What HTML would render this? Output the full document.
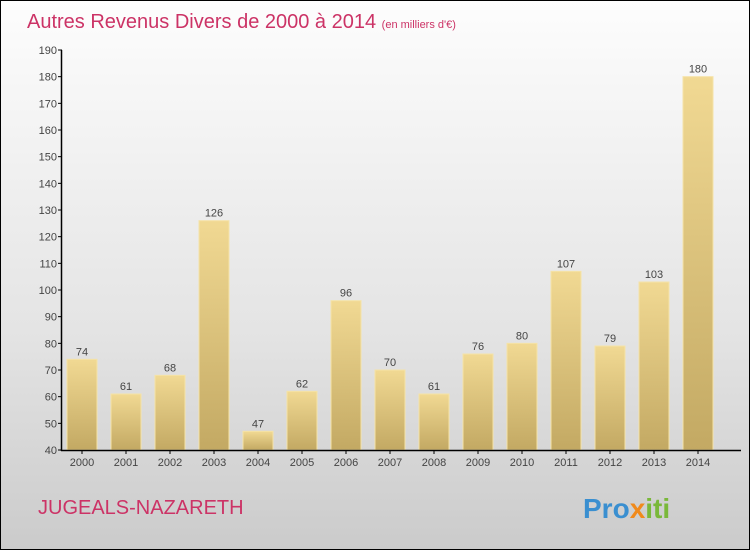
<!DOCTYPE html>
<html><head><meta charset="utf-8"><style>
body{margin:0;}
#wrap{width:748px;height:548px;border:1px solid #000;background:linear-gradient(#fdfdfd,#e4e4e4 60%,#cbcbcb);position:relative;font-family:"Liberation Sans",sans-serif;}
</style></head><body>
<div id="wrap">
<svg id="chart" width="748" height="548">
<defs><linearGradient id="bg" x1="0" y1="0" x2="0" y2="1"><stop offset="0" stop-color="#f1d993"/><stop offset="1" stop-color="#c3a963"/></linearGradient></defs>
<text x="26" y="27" font-size="20" fill="#cc3366">Autres Revenus Divers de 2000 à 2014 <tspan font-size="11">(en milliers d'€)</tspan></text>
<text x="37" y="513" font-size="20" fill="#cc3366">JUGEALS-NAZARETH</text>
<text x="582" y="517" font-size="28" font-weight="bold" fill="#3a8fd0">Pro<tspan fill="#f08a1c">x</tspan><tspan fill="#7ab83a">iti</tspan></text>
<g id="bars"></g><g id="axes"></g>
</svg></div>
<script>
const years=["2000","2001","2002","2003","2004","2005","2006","2007","2008","2009","2010","2011","2012","2013","2014"];
const values=[74,61,68,126,47,62,96,70,61,76,80,107,79,103,180];
const yTicks=[40,50,60,70,80,90,100,110,120,130,140,150,160,170,180,190];
const NS="http://www.w3.org/2000/svg";
const y=v=>449-(v-40)*(400/150);
const x=i=>81+i*44;
const bars=document.getElementById('bars'),axes=document.getElementById('axes');
function mk(t,a,p){const e=document.createElementNS(NS,t);for(const k in a)e.setAttribute(k,a[k]);p.appendChild(e);return e;}
values.forEach((v,i)=>{
 const r=mk('rect',{x:x(i)-15,y:y(v),width:30,height:y(40)-y(v),fill:'url(#bg)',stroke:'#f5e3a8','stroke-width':1},bars);
 
 
 const t=mk('text',{x:x(i),y:y(v)-4,'text-anchor':'middle','font-size':11,fill:'#444'},bars);t.textContent=v;
 
 
 const l=mk('text',{x:x(i),y:465,'text-anchor':'middle','font-size':11,fill:'#444'},axes);l.textContent=years[i];
 
 
 mk('line',{x1:x(i),x2:x(i),y1:449,y2:453,stroke:'#000'},axes);
});
yTicks.forEach(v=>{
 mk('line',{x1:57,x2:61,y1:y(v),y2:y(v),stroke:'#000'},axes);
 const t=mk('text',{x:56,y:y(v)+4,'text-anchor':'end','font-size':11,fill:'#444'},axes);t.textContent=v;
 
 
});
const ya=mk('line',{x1:60.5,x2:60.5,y1:y(190),y2:450,stroke:'#000','stroke-width':1.5},axes);


const xa=mk('line',{x1:60,x2:740,y1:449.5,y2:449.5,stroke:'#000','stroke-width':1.5},axes);


</script>
</body></html>
